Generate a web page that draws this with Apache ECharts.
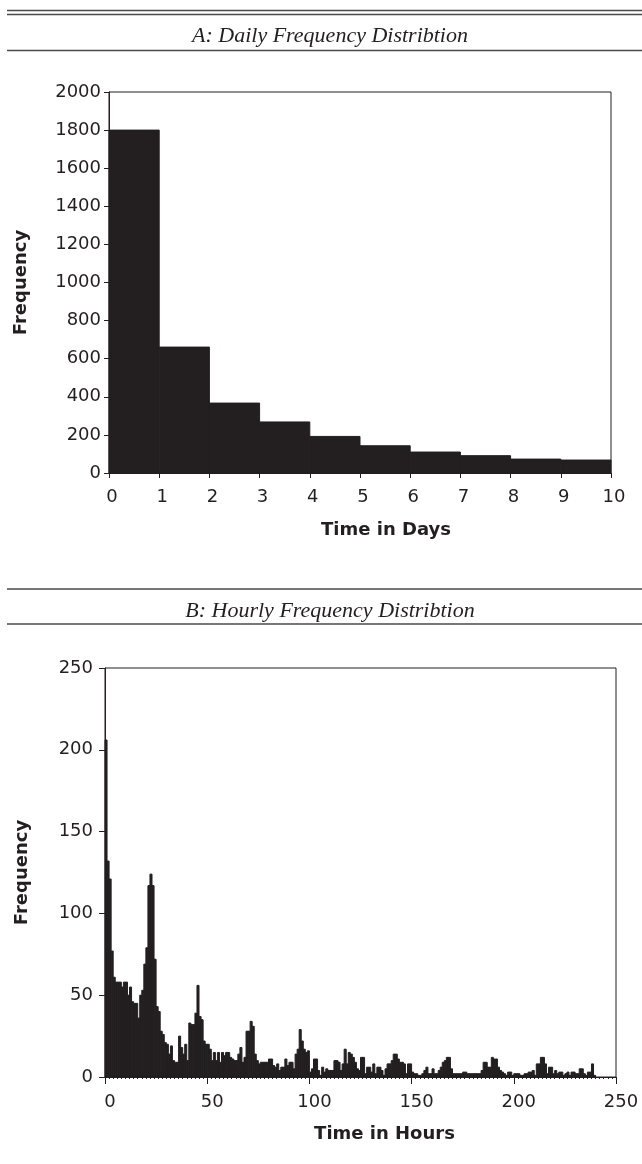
<!DOCTYPE html>
<html>
<head>
<meta charset="utf-8">
<title>Frequency Distributions</title>
<script src="https://cdn.jsdelivr.net/npm/echarts@6/dist/echarts.min.js"></script>
<style>
  html, body { margin: 0; padding: 0; background: #fff; }
  #chart { width: 642px; height: 1164px; }
</style>
</head>
<body>
<div id="chart"></div>
<script>
// A: daily bins (start day of each one-day bin) and counts
const dayStarts = [0, 1, 2, 3, 4, 5, 6, 7, 8, 9];
const dailyCounts = [1800, 661, 367, 268, 192, 143, 110, 91, 73, 68];

// B: hourly counts, one per hour from hour 0 to hour 239
const hourlyCounts = [
  206, 132, 121, 77, 61, 58, 58, 58, 55, 58,
  58, 50, 55, 46, 45, 45, 36, 50, 53, 69,
  79, 117, 124, 117, 72, 43, 40, 28, 26, 21,
  20, 14, 19, 10, 9, 9, 25, 18, 14, 20,
  10, 33, 32, 32, 39, 56, 37, 35, 22, 20,
  20, 17, 10, 15, 10, 15, 9, 15, 13, 15,
  15, 12, 11, 10, 10, 14, 18, 9, 12, 28,
  28, 34, 31, 14, 10, 8, 9, 9, 9, 9,
  11, 11, 7, 6, 8, 4, 6, 6, 11, 7,
  9, 9, 5, 14, 17, 29, 22, 17, 15, 16,
  3, 5, 11, 11, 4, 1, 6, 3, 5, 4,
  4, 4, 10, 10, 9, 4, 8, 17, 8, 15,
  14, 12, 9, 5, 4, 12, 12, 2, 6, 6,
  3, 8, 2, 6, 6, 4, 1, 5, 8, 8,
  10, 14, 14, 11, 9, 9, 8, 2, 8, 8,
  3, 2, 2, 1, 1, 2, 4, 6, 2, 2,
  5, 2, 2, 4, 6, 9, 10, 12, 12, 5,
  2, 2, 2, 2, 2, 3, 3, 2, 2, 2,
  2, 2, 2, 2, 4, 9, 9, 6, 6, 12,
  11, 11, 6, 4, 3, 2, 1, 3, 3, 1,
  2, 2, 2, 1, 1, 2, 2, 3, 3, 4,
  1, 8, 8, 12, 12, 8, 2, 6, 6, 2,
  4, 2, 3, 3, 1, 2, 3, 1, 3, 3,
  2, 2, 5, 5, 2, 1, 3, 3, 8, 1
];

const dayTicks = [0, 10, 1];       // min, max, interval
const dayFreqTicks = [0, 2000, 200];
const hourTicks = [0, 250, 50];
const hourFreqTicks = [0, 250, 50];

const INK = '#231f20';
const SANS = 'DejaVu Sans';

// histogram bin -> [from, to, count]
const dailyBins = dayStarts.map((d, i) => [d, d + 1, dailyCounts[i]]);
const hourlyBins = hourlyCounts.map((v, h) => [h, h + 1, v]);

function renderBin(params, api) {
  const topLeft = api.coord([api.value(0), api.value(2)]);
  const bottomRight = api.coord([api.value(1), 0]);
  return {
    type: 'rect',
    shape: {
      x: topLeft[0],
      y: topLeft[1],
      width: bottomRight[0] - topLeft[0],
      height: bottomRight[1] - topLeft[1]
    },
    style: { fill: INK, stroke: INK, lineWidth: 1 }
  };
}

function plainLabel(margin, shift) {
  return {
    color: INK,
    fontFamily: SANS,
    fontSize: 18,
    margin: margin,
    padding: [0, 0, 0, shift],
    formatter: v => String(v)
  };
}

function valueAxis(gridIndex, ticks, opts) {
  return Object.assign({
    type: 'value',
    gridIndex: gridIndex,
    min: ticks[0],
    max: ticks[1],
    interval: ticks[2],
    splitLine: { show: false },
    axisLine: { show: true, lineStyle: { color: INK, width: 1 } },
    axisTick: { show: true, inside: false, length: 5, lineStyle: { color: INK, width: 1 } },
    nameLocation: 'middle',
    nameTextStyle: { color: INK, fontFamily: SANS, fontSize: 18, fontWeight: 'bold' }
  }, opts);
}

const titleStyle = {
  color: INK,
  fontFamily: 'Liberation Serif',
  fontStyle: 'italic',
  fontWeight: 'normal',
  fontSize: 22
};

function rule(y) {
  return {
    type: 'line',
    shape: { x1: 7, y1: y, x2: 642, y2: y },
    style: { stroke: '#4a4a4a', lineWidth: 1.5 }
  };
}

const chart = echarts.init(document.getElementById('chart'), null, { renderer: 'canvas' });

chart.setOption({
  backgroundColor: '#fff',
  animation: false,
  title: [
    { text: 'A: Daily Frequency Distribtion', left: 325, top: 20, textAlign: 'center', textStyle: titleStyle },
    { text: 'B: Hourly Frequency Distribtion', left: 325, top: 595, textAlign: 'center', textStyle: titleStyle }
  ],
  graphic: [rule(10.5), rule(14.5), rule(50.5), rule(589), rule(624)],
  grid: [
    { left: 109, top: 92, width: 502, height: 381, show: true, borderColor: INK, borderWidth: 1 },
    { left: 105, top: 668, width: 511, height: 409, show: true, borderColor: INK, borderWidth: 1 }
  ],
  xAxis: [
    valueAxis(0, dayTicks, {
      name: 'Time in Days',
      nameGap: 48,
      axisLabel: plainLabel(15, 6),
      nameTextStyle: { color: INK, fontFamily: SANS, fontSize: 18, fontWeight: 'bold', padding: [0, 0, 0, 52] }
    }),
    valueAxis(1, hourTicks, {
      name: 'Time in Hours',
      nameGap: 48,
      axisTick: { show: true, length: 7, lineStyle: { color: INK, width: 1 } },
      minorTick: { show: true, splitNumber: 25, length: 2, lineStyle: { color: INK, width: 1 } },
      axisLabel: plainLabel(16, 10),
      nameTextStyle: { color: INK, fontFamily: SANS, fontSize: 18, fontWeight: 'bold', padding: [0, 0, 0, 48] }
    })
  ],
  yAxis: [
    valueAxis(0, dayFreqTicks, {
      name: 'Frequency',
      nameGap: 79,
      axisLabel: plainLabel(8, 0)
    }),
    valueAxis(1, hourFreqTicks, {
      name: 'Frequency',
      nameGap: 74,
      axisTick: { show: true, length: 6, lineStyle: { color: INK, width: 1 } },
      axisLabel: plainLabel(12, 0)
    })
  ],
  series: [
    {
      name: 'Daily',
      type: 'custom',
      xAxisIndex: 0,
      yAxisIndex: 0,
      renderItem: renderBin,
      encode: { x: [0, 1], y: 2 },
      data: dailyBins
    },
    {
      name: 'Hourly',
      type: 'custom',
      xAxisIndex: 1,
      yAxisIndex: 1,
      renderItem: renderBin,
      encode: { x: [0, 1], y: 2 },
      data: hourlyBins
    }
  ]
});
</script>
</body>
</html>
